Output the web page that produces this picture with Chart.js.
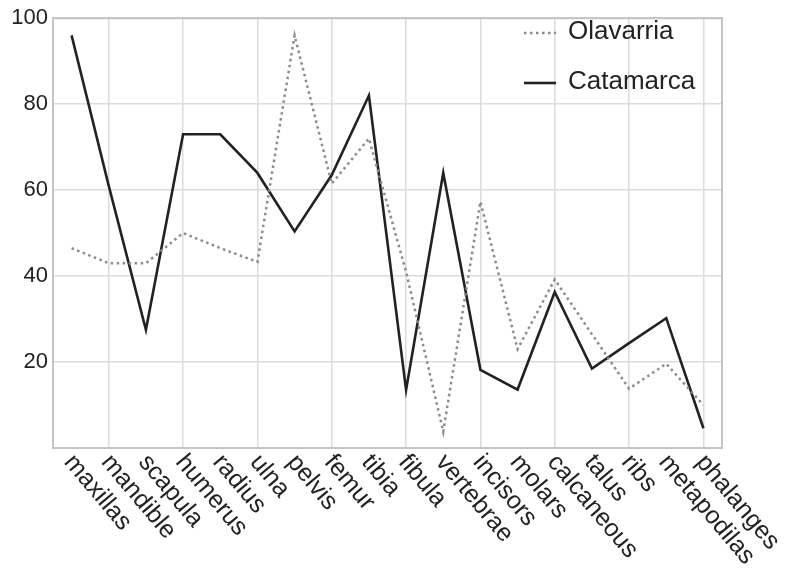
<!DOCTYPE html>
<html>
<head>
<meta charset="utf-8">
<script src="https://cdn.jsdelivr.net/npm/chart.js@4/dist/chart.umd.min.js"></script>
<style>
  html, body { margin: 0; padding: 0; background: #ffffff; }
  #wrap { width: 787px; height: 569px; position: relative; }
</style>
</head>
<body>
<div id="wrap"><canvas id="c"></canvas></div>
<script>
const categories = ["maxillas","mandible","scapula","humerus","radius","ulna","pelvis","femur","tibia","fibula","vertebrae","incisors","molars","calcaneous","talus","ribs","metapodilas","phalanges"];
const olavarria = [46.5, 43, 43, 50, 46.5, 43.3, 96, 61.5, 72, 41, 3.8, 57.3, 23, 39.2, 26.5, 13.8, 19.6, 10];
const catamarca = [96, 61, 27.5, 73, 73, 64, 50.4, 63.5, 82, 13.5, 64, 18.2, 13.6, 36.3, 18.5, 24.4, 30.2, 4.6];
const yTicks = [20, 40, 60, 80, 100];

const FONT = "'Liberation Sans', Arial, Helvetica, sans-serif";

const overlay = {
  id: 'overlay',
  afterDraw(chart) {
    const ctx = chart.ctx;
    const a = chart.chartArea;
    const xs = chart.scales.x;
    ctx.save();
    // frame
    ctx.strokeStyle = '#c4c4c4';
    ctx.lineWidth = 2;
    ctx.strokeRect(a.left, a.top, a.right - a.left, a.bottom - a.top);
    // rotated category labels
    ctx.fillStyle = '#222';
    ctx.font = "25px " + FONT;
    ctx.textAlign = 'left';
    ctx.textBaseline = 'middle';
    const ang = 50 * Math.PI / 180;
    categories.forEach((lab, i) => {
      const x = xs.getPixelForValue(i) - 3;
      const y = a.bottom + 10;
      ctx.save();
      ctx.translate(x, y);
      ctx.rotate(ang);
      ctx.fillText(lab, 0, 0);
      ctx.restore();
    });
    // legend
    const ds = chart.data.datasets;
    const rows = [33, 83];
    ctx.font = "26px " + FONT;
    ds.forEach((d, i) => {
      const y = rows[i];
      ctx.save();
      ctx.strokeStyle = d.borderColor;
      ctx.lineWidth = d.borderWidth;
      ctx.setLineDash(d.borderDash || []);
      ctx.beginPath();
      ctx.moveTo(524, y);
      ctx.lineTo(556, y);
      ctx.stroke();
      ctx.restore();
      ctx.fillStyle = '#222';
      ctx.fillText(d.label, 568, y - 1);
    });
    ctx.restore();
  }
};

new Chart(document.getElementById('c'), {
  type: 'line',
  data: {
    labels: categories,
    datasets: [
      {
        label: 'Olavarria',
        data: olavarria,
        borderColor: '#8a8a8a',
        borderWidth: 2.5,
        borderDash: [2.5, 3.5],
        pointRadius: 0,
        tension: 0,
        fill: false
      },
      {
        label: 'Catamarca',
        data: catamarca,
        borderColor: '#222222',
        borderWidth: 2.6,
        pointRadius: 0,
        tension: 0,
        fill: false
      }
    ]
  },
  options: {
    responsive: true,
    maintainAspectRatio: false,
    animation: false,
    devicePixelRatio: 1,
    layout: { padding: { top: 15, right: 65, left: 0, bottom: 0 } },
    plugins: { legend: { display: false }, tooltip: { enabled: false } },
    scales: {
      x: {
        offset: true,
        grid: {
          offset: false,
          drawTicks: false,
          lineWidth: 1.5,
          color: (c) => (c.index % 2 === 1 ? '#dcdcdc' : 'rgba(0,0,0,0)')
        },
        border: { display: false },
        ticks: { display: false },
        afterFit(s) { s.height = 121; }
      },
      y: {
        min: 0,
        max: 100,
        afterBuildTicks(s) { s.ticks = [0].concat(yTicks).map(v => ({ value: v })); },
        grid: { drawTicks: false, color: '#dcdcdc', lineWidth: 1.5 },
        border: { display: false },
        ticks: {
          padding: 5,
          color: '#222',
          font: { family: FONT, size: 22 },
          callback: (v) => (v === 0 ? '' : String(v))
        },
        afterFit(s) { s.width = 53; }
      }
    }
  },
  plugins: [overlay]
});
</script>
</body>
</html>
